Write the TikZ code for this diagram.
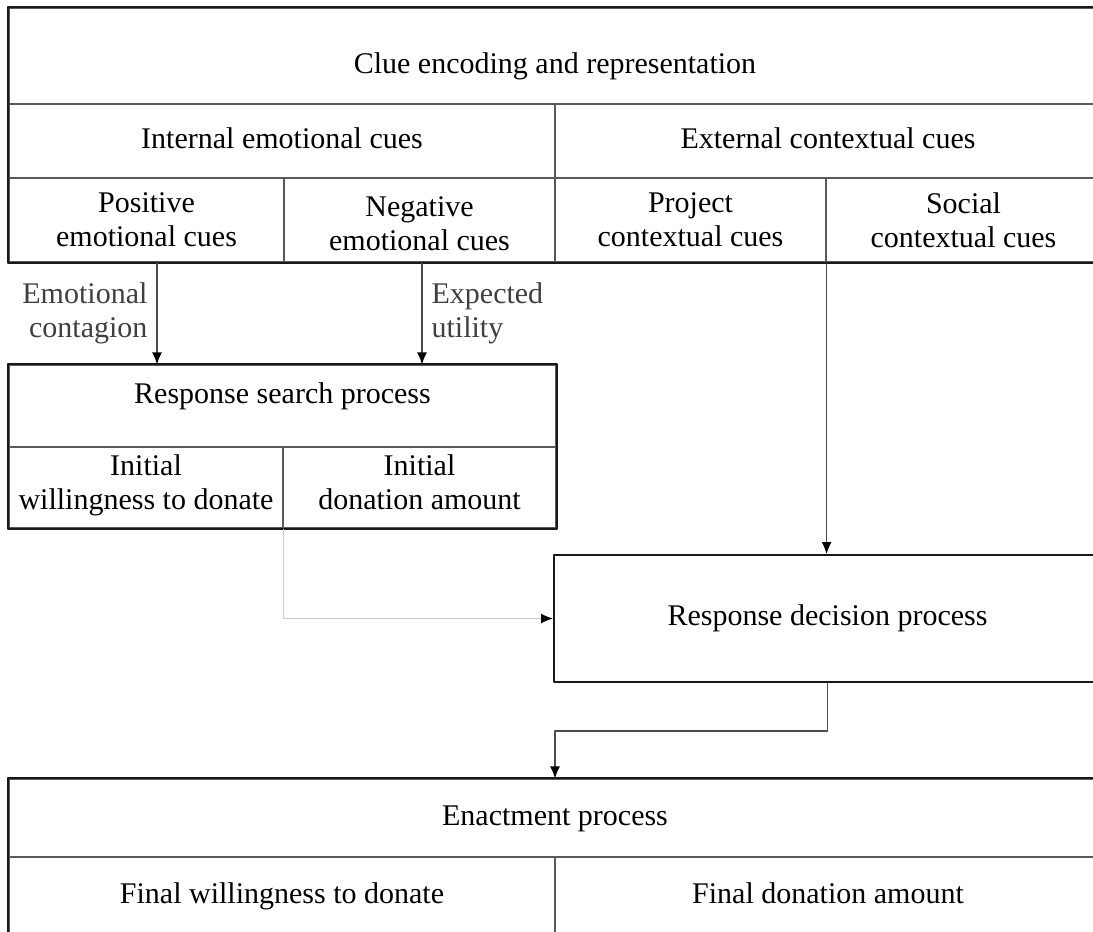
\documentclass[tikz,border=0pt]{standalone}
\usepackage{fontspec}
\setmainfont{Liberation Serif}
\usetikzlibrary{arrows.meta}

\begin{document}
\begin{tikzpicture}[x=.5pt,y=-.5pt,line join=round,
    font=\fontsize{15}{17}\selectfont,
    cell/.style={draw=black!65,line width=.6pt,inner sep=0pt,align=center},
    oneline/.style={text height=10.5pt,text depth=3.3pt},
    frame/.style={draw=black!90,line width=1pt},
    lbl/.style={text=black!75,inner sep=4.5pt},
    conn/.style={-{Latex[length=6pt,width=5pt,color=black]},draw=black!70,line width=.6pt},
    faint/.style={conn,draw=black!20}]
    \useasboundingbox[fill=white] (0,0) rectangle (1093,932);
    \clip (0,0) rectangle (1093,932);
    % clue encoding block
    \node[cell,minimum width=546pt,minimum height=48pt] (clue) at (555,56) {};
    \node[oneline] (cluetxt) at (555,66) {Clue encoding and representation};
    \node[cell,oneline,minimum width=273pt,minimum height=37pt] (internal) at (282,141) {Internal emotional cues};
    \node[cell,oneline,minimum width=273pt,minimum height=37pt] (external) at (828,141) {External contextual cues};
    \node[cell,minimum width=137.5pt,minimum height=42pt] (positive) at (146.5,220) {Positive\\emotional cues};
    \node[cell,minimum width=135.5pt,minimum height=42pt] (negative) at (419.5,220) {\\[-3pt]Negative\\emotional cues};
    \node[cell,minimum width=135.5pt,minimum height=42pt] (project) at (690.5,220) {Project\\contextual cues};
    \node[cell,minimum width=137.5pt,minimum height=42pt] (social) at (963.5,220) {Social\\contextual cues};
    \draw[frame] (clue.north west) rectangle (social.south east);
    % response search block
    \node[cell,minimum width=273.5pt,minimum height=41pt] (search) at (282.5,406) {};
    \node[oneline] (searchtxt) at (282.5,396) {Response search process};
    \node[cell,minimum width=137pt,minimum height=40.5pt] (wdonate) at (146,487.5) {Initial\\willingness to donate\strut};
    \node[cell,minimum width=136.5pt,minimum height=40.5pt] (damount) at (419.5,487.5) {Initial\\donation amount\strut};
    \draw[frame] (search.north west) rectangle (damount.south east);
    % response decision
    \node[cell,oneline,frame,minimum width=273.5pt,minimum height=63.5pt] (decide) at (827.5,618.5) {Response decision process};
    % enactment block
    \node[cell,oneline,minimum width=546pt,minimum height=39pt] (enact) at (555,818) {Enactment process};
    \node[cell,oneline,minimum width=273pt,minimum height=39pt] (fwill) at (282,896) {Final willingness to donate};
    \node[cell,oneline,minimum width=273pt,minimum height=39pt] (famount) at (828,896) {Final donation amount};
    \draw[frame] (enact.north west) rectangle (famount.south east);
    % connectors
    \draw[conn] ([xshift=5.25pt]positive.south) -- ([xshift=5.25pt]positive.south |- search.north)
        node[lbl,midway,left,align=right] (contagion) {Emotional\\contagion};
    \draw[conn] ([xshift=1.25pt]negative.south) -- ([xshift=1.25pt]negative.south |- search.north)
        node[lbl,midway,right,align=left] (utility) {Expected\\utility};
    \draw[conn] (project.south east) -- (project.south east |- decide.north);
    \draw[faint] (wdonate.south east) |- (decide.west);
    \draw[conn] (decide.south) -- ++(0,48) -| (enact.north);
\end{tikzpicture}
\end{document}
